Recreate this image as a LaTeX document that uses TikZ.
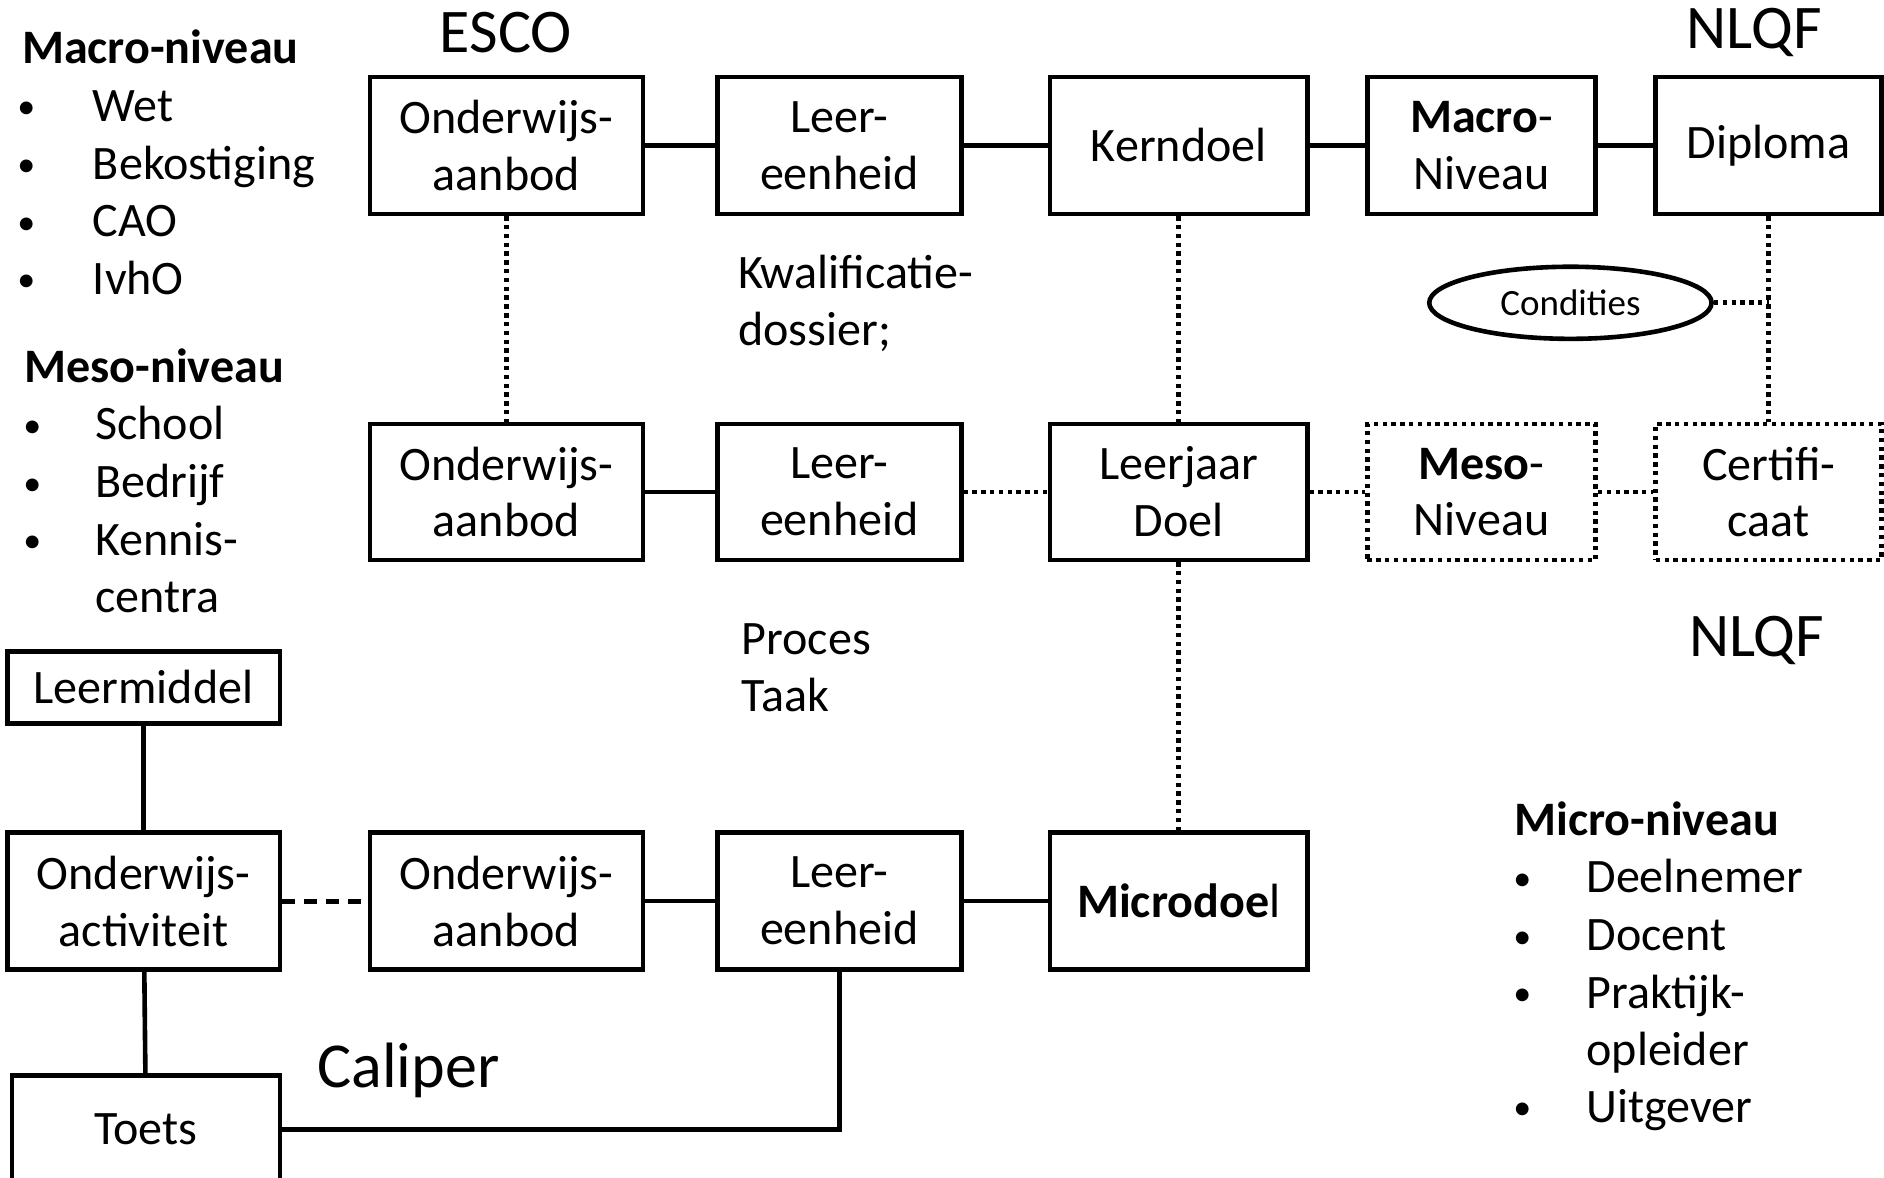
\documentclass[tikz,border=0pt]{standalone}
\usepackage{fontspec}
\setmainfont{Carlito}
\usetikzlibrary{shapes.geometric}
\newcommand\bxf{\fontsize{24}{28.4}\selectfont}
\newcommand\bigf{\fontsize{31}{36}\selectfont}
\tikzset{
  bx/.style 2 args={draw, line width=2.3pt, minimum width=#1*0.6pt, minimum height=#2*0.6pt, inner sep=0pt, align=center, font=\bxf},
  dbx/.style 2 args={bx={#1}{#2}, dash pattern=on 2.2pt off 2.2pt, line width=2.3pt},
  ln/.style={line width=2.3pt},
  dotln/.style={line width=2.3pt, dash pattern=on 2.2pt off 2.2pt},
  dashln/.style={line width=2.4pt, dash pattern=on 6.5pt off 4.5pt},
  txt/.style={inner sep=0pt, font=\bxf},
  item/.style={inner sep=0pt, font=\bxf, anchor=base west},
  bul/.style={inner sep=0pt, font=\fontsize{18}{20}\selectfont, anchor=base},
}
\begin{document}
\begin{tikzpicture}[x=0.6pt, y=-0.6pt]
\useasboundingbox[fill=white] (0,0) rectangle (1568,980);

% row 1
\node[bx={227}{114}] (oa1) at (421.5,121) {Onderwijs-\\aanbod};
\node[bx={203}{114}] (le1) at (698.5,121) {Leer-\\eenheid};
\node[bx={214}{114}] (kd) at (981,121) {Kerndoel};
\node[bx={190}{114}] (mac) at (1233,121) {\textbf{Macro}-\\Niveau};
\node[bx={188}{114}] (dip) at (1472,121) {\raisebox{-1.5pt}{Diploma}};

% row 2
\node[bx={227}{113}] (oa2) at (421.5,409.5) {Onderwijs-\\aanbod};
\node[bx={203}{113}] (le2) at (698.5,409.5) {Leer-\\eenheid};
\node[bx={214}{113}] (ld) at (981,409.5) {Leerjaar\\Doel};
\node[dbx={190}{113}] (mes) at (1233,409.5) {\textbf{Meso}-\\Niveau};
\node[dbx={188}{113}] (cer) at (1472,409.5) {Certifi-\\caat};

% row 3
\node[bx={227}{114}] (oaa) at (119.5,750) {Onderwijs-\\activiteit};
\node[bx={227}{114}] (oa3) at (421.5,750) {Onderwijs-\\aanbod};
\node[bx={203}{114}] (le3) at (698.5,750) {Leer-\\eenheid};
\node[bx={214}{114}] (mic) at (981,750) {\textbf{Microdoe}l};

\node[bx={227}{60}] (lm) at (119.5,572) {Leermiddel};
\node[bx={223}{90}] (toets) at (121.5,940) {Toets};

% ellipse
\node[draw, ellipse, line width=2.3pt, minimum width=235*0.6pt, minimum height=60*0.6pt, inner sep=0pt, font=\fontsize{18.5}{22}\selectfont] (cond) at (1307,252) {Condities};
\coordinate (cj) at (1472,252);

% connectors
\draw[ln] (oa1) -- (le1);
\draw[ln] (le1) -- (kd);
\draw[ln] (kd) -- (mac);
\draw[ln] (mac) -- (dip);
\draw[dotln] (oa1) -- (oa2);
\draw[dotln] (kd) -- (ld);
\draw[dotln] (dip) -- (cer);
\draw[dotln] (cond) -- (cj);
\draw[ln] (oa2) -- (le2);
\draw[dotln] (le2) -- (ld);
\draw[dotln] (ld) -- (mes);
\draw[dotln] (mes) -- (cer);
\draw[dotln] (ld) -- (mic);
\draw[dashln] (oaa) -- (oa3);
\draw[ln] (oa3) -- (le3);
\draw[ln] (le3) -- (mic);
\draw[ln] (lm) -- (oaa);
\draw[ln] (oaa) -- (toets);
\draw[ln] (le3.south) |- (toets.east);

% titles
\node[inner sep=0pt, font=\bigf] (esco) at (421,27) {ESCO};
\node[inner sep=0pt, font=\bigf] (nlqf1) at (1460,27) {NLQF};
\node[inner sep=0pt, font=\bigf] (nlqf2) at (1462,533) {NLQF};
\node[inner sep=0pt, font=\fontsize{32}{36}\selectfont] (cal) at (340,891) {Caliper};
\node[txt, anchor=west, align=left] (kwal) at (614,252.5) {Kwalificatie-\\dossier;};
\node[txt, anchor=west, align=left] (proc) at (617,556) {Proces\\Taak};

% Macro list
\node[item] (mah) at (18,53) {\textbf{Macro-niveau}};
\node[bul] (mab1) at (22,99) {•}; \node[item] (mai1) at (77,101) {Wet};
\node[bul] (mab2) at (22,147) {•}; \node[item] (mai2) at (77,149) {Bekostiging};
\node[bul] (mab3) at (22,195) {•}; \node[item] (mai3) at (77,197) {CAO};
\node[bul] (mab4) at (22,243) {•}; \node[item] (mai4) at (77,245) {IvhO};

% Meso list
\node[item] (meh) at (20,318) {\textbf{Meso-niveau}};
\node[bul] (meb1) at (27,364) {•}; \node[item] (mei1) at (79,366) {School};
\node[bul] (meb2) at (27,412) {•}; \node[item] (mei2) at (79,414) {Bedrijf};
\node[bul] (meb3) at (27,460) {•}; \node[item] (mei3) at (79,462) {Kennis-};
\node[item] (mei4) at (79,510) {centra};

% Micro list
\node[item] (mih) at (1260,695) {\textbf{Micro-niveau}};
\node[bul] (mib1) at (1267,741) {•}; \node[item] (mii1) at (1320,743) {Deelnemer};
\node[bul] (mib2) at (1267,789) {•}; \node[item] (mii2) at (1320,791) {Docent};
\node[bul] (mib3) at (1267,837) {•}; \node[item] (mii3) at (1320,839) {Praktijk-};
\node[item] (mii4) at (1320,887) {opleider};
\node[bul] (mib4) at (1267,932) {•}; \node[item] (mii5) at (1320,934) {Uitgever};
\end{tikzpicture}
\end{document}
